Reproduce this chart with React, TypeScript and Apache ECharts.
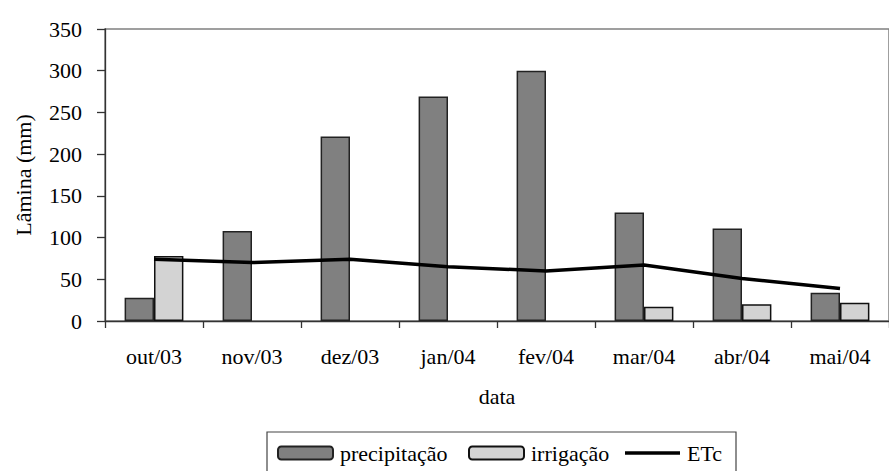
import React, { useEffect, useRef } from "react";
import * as echarts from "echarts";

const categories = ["out/03", "nov/03", "dez/03", "jan/04", "fev/04", "mar/04", "abr/04", "mai/04"];
const precipitacao = [28, 108, 221, 269, 300, 130, 111, 34];
const irrigacao = [78, null, null, null, null, 17, 20, 22];
const etc = [74, 70, 74, 65, 60, 67, 51, 39];
const legendNames = ["precipitação", "irrigação", "ETc"];

const FONT = "'Liberation Serif', 'Times New Roman', serif";
const FS = 22;

export default function App() {
  const ref = useRef<HTMLDivElement>(null);
  useEffect(() => {
    if (!ref.current) return;
    const chart = echarts.init(ref.current, null, { renderer: "svg" });
    const legendLefts = [277, 468, 625];
    chart.setOption({
      animation: false,
      backgroundColor: "#ffffff",
      textStyle: { fontFamily: FONT, color: "#000" },
      grid: {
        left: 105,
        right: -13,
        top: 29,
        bottom: 150,
        show: true,
        borderColor: "#808080",
        borderWidth: 1.5,
        backgroundColor: "transparent",
      },
      graphic: [
        {
          type: "rect",
          shape: { x: 267, y: 432, width: 469, height: 60 },
          style: { fill: "#fff", stroke: "#444", lineWidth: 1.2 },
          z: 0,
          silent: true,
        },
      ],
      legend: legendNames.map((n, i) => ({
        left: legendLefts[i],
        top: 442,
        padding: 0,
        itemWidth: 55,
        itemHeight: 13,
        z: 10,
        textStyle: { fontFamily: FONT, fontSize: FS, color: "#000", padding: [0, 0, 0, 2] },
        data: [
          n === "ETc"
            ? { name: n, icon: "path://M0,0L55,0L55,3.5L0,3.5Z" }
            : { name: n },
        ],
      })),
      xAxis: {
        type: "category",
        data: categories,
        name: "data",
        nameLocation: "middle",
        nameGap: 64,
        nameTextStyle: { fontFamily: FONT, fontSize: FS, color: "#000" },
        axisLine: { lineStyle: { color: "#333", width: 1.3 } },
        axisTick: { show: true, length: 7, lineStyle: { color: "#333", width: 1.3 } },
        axisLabel: { fontFamily: FONT, fontSize: FS, color: "#000", margin: 24, interval: 0 },
        splitLine: { show: false },
      },
      yAxis: {
        type: "value",
        min: 0,
        max: 350,
        interval: 50,
        name: "Lâmina (mm)",
        nameLocation: "middle",
        nameGap: 71,
        nameTextStyle: { fontFamily: FONT, fontSize: FS, color: "#000" },
        axisLine: { show: true, lineStyle: { color: "#333", width: 1.3 } },
        axisTick: { show: true, length: 8, lineStyle: { color: "#333", width: 1.3 } },
        axisLabel: { fontFamily: FONT, fontSize: FS, color: "#000", margin: 23 },
        splitLine: { show: false },
      },
      series: [
        {
          name: "precipitação",
          type: "bar",
          data: precipitacao,
          barGap: "0%",
          barCategoryGap: "40%",
          itemStyle: { color: "#808080", borderColor: "#222", borderWidth: 1.5 },
        },
        {
          name: "irrigação",
          type: "bar",
          data: irrigacao,
          barGap: "0%",
          barCategoryGap: "40%",
          itemStyle: { color: "#d3d3d3", borderColor: "#111", borderWidth: 1.5 },
        },
        {
          name: "ETc",
          type: "line",
          data: etc,
          symbol: "none",
          lineStyle: { color: "#000", width: 3.5 },
          itemStyle: { color: "#000" },
          z: 5,
        },
      ],
    });
    return () => chart.dispose();
  }, []);
  return (
    <div
      ref={ref}
      style={{ position: "fixed", left: 0, top: 0, width: 889, height: 471, background: "#fff" }}
    />
  );
}
